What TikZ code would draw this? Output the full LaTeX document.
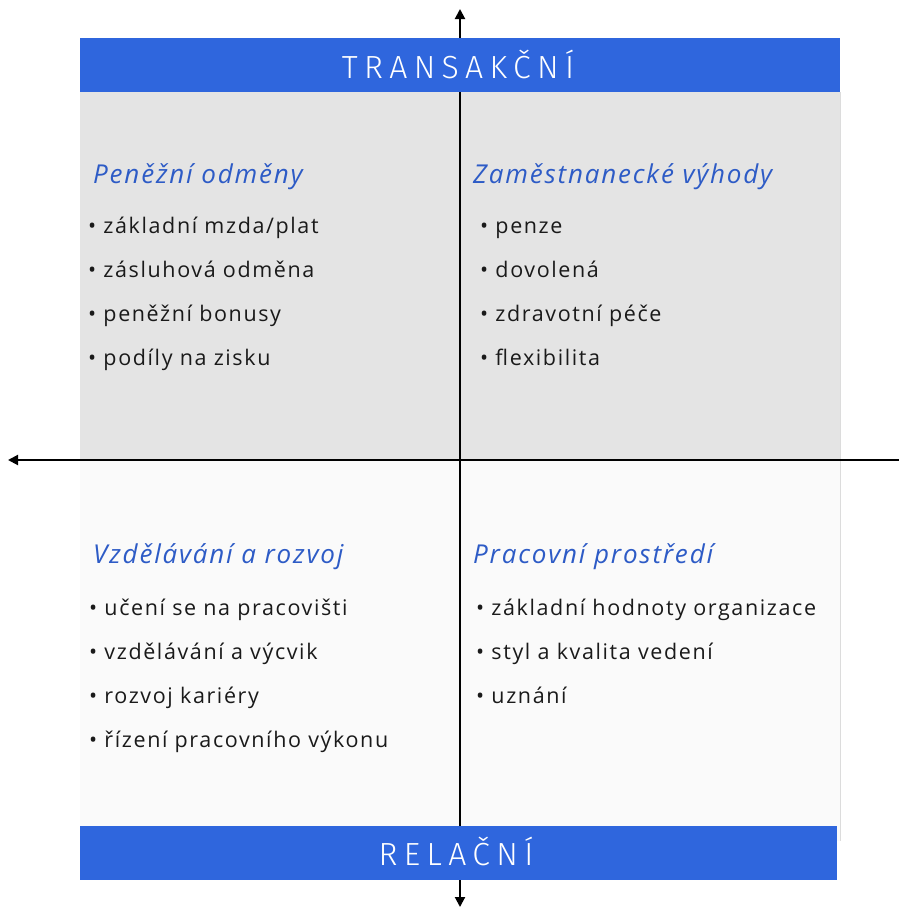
\documentclass[tikz,border=0pt]{standalone}
\usepackage{fontspec}
\setmainfont{Open Sans}[LetterSpace=7.5]
\newfontfamily\headfont{Open Sans}[LetterSpace=7]
\newfontfamily\bannerfont{Fira Sans Light}[LetterSpace=20]
\usetikzlibrary{arrows.meta}

\definecolor{bannerblue}{HTML}{2F66DD}
\definecolor{headblue}{HTML}{2D5BC6}
\definecolor{uppergray}{HTML}{E4E4E4}
\definecolor{lowergray}{HTML}{FAFAFA}
\definecolor{rulegray}{HTML}{DCDCDC}
\definecolor{textdark}{HTML}{1A1A1A}

\begin{document}
\begin{tikzpicture}[x=1pt,y=-1pt,
  >={Triangle[length=10pt,width=10pt]},
  bannerbox/.style={fill=bannerblue, draw=none, inner sep=0, minimum height=54pt},
  bannerlabel/.style={anchor=base, inner sep=0, text=white,
    font=\bannerfont\fontsize{32}{32}\selectfont},
  heading/.style={anchor=base west, inner sep=0, text=headblue,
    font=\headfont\itshape\fontsize{26}{26}\selectfont},
  item/.style={anchor=base west, inner sep=0, text=textdark,
    font=\fontsize{21.5}{21.5}\selectfont},
  axisline/.style={line width=2pt}]

\useasboundingbox (0,0) rectangle (899,908);
\fill[white] (0,0) rectangle (899,908);

% quadrant backgrounds
\fill[uppergray] (80,92) rectangle (840,460);
\fill[lowergray] (80,460) rectangle (840,841);
\draw[rulegray, line width=1pt] (840,92) -- (840,841);

% axes
\coordinate (vtop) at (460,9);
\coordinate (vbot) at (460,907);
\coordinate (hleft) at (8,460);
\coordinate (hright) at (899,460);
\draw[axisline, <->] (vtop) -- (vbot);
\draw[axisline, ->] (hright) -- (hleft);

% banners
\node[bannerbox, minimum width=760pt] (transbox) at (460,65) {};
\node[bannerbox, minimum width=757pt] (relbox) at (458.5,853) {};
\node[bannerlabel] (trans) at (458,78) {TRANSAKČNÍ};
\node[bannerlabel] (rel) at (456,865) {RELAČNÍ};

% upper left
\node[heading] (h1) at (93,183) {Peněžní odměny};
\node[item] (a1) at (88,233) {• základní mzda/plat};
\node[item] (a2) at (88,277) {• zásluhová odměna};
\node[item] (a3) at (88,321) {• peněžní bonusy};
\node[item] (a4) at (88,365) {• podíly na zisku};

% upper right
\node[heading] (h2) at (473,183) {Zaměstnanecké výhody};
\node[item] (b1) at (480,233) {• penze};
\node[item] (b2) at (480,277) {• dovolená};
\node[item] (b3) at (480,321) {• zdravotní péče};
\node[item] (b4) at (480,365) {• flexibilita};

% lower left
\node[heading] (h3) at (93,563) {Vzdělávání a rozvoj};
\node[item] (c1) at (89,615) {• učení se na pracovišti};
\node[item] (c2) at (89,659) {• vzdělávání a výcvik};
\node[item] (c3) at (89,703) {• rozvoj kariéry};
\node[item] (c4) at (89,747) {• řízení pracovního výkonu};

% lower right
\node[heading] (h4) at (473,563) {Pracovní prostředí};
\node[item] (d1) at (476,615) {• základní hodnoty organizace};
\node[item] (d2) at (476,659) {• styl a kvalita vedení};
\node[item] (d3) at (476,703) {• uznání};
\end{tikzpicture}
\end{document}
